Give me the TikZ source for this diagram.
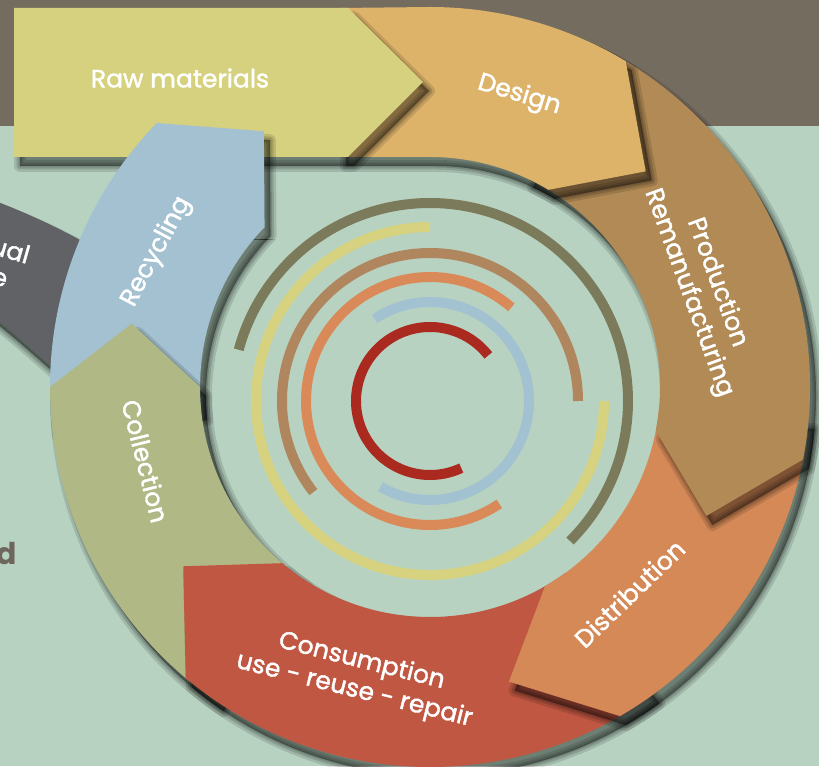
\documentclass[tikz,border=0pt]{standalone}
\usepackage{fontspec}
\setmainfont{Poppins}
\newfontfamily\lab{Poppins}[FakeBold=1.6]
\usetikzlibrary{calc,shadows}
\definecolor{band}{HTML}{756C60}
\definecolor{bg}{HTML}{B7D2C1}
\definecolor{raw}{HTML}{D5D17F}
\definecolor{des}{HTML}{DDB36A}
\definecolor{prod}{HTML}{B18A55}
\definecolor{dist}{HTML}{D58957}
\definecolor{cons}{HTML}{C05743}
\definecolor{coll}{HTML}{B0B986}
\definecolor{recy}{HTML}{A3C1D1}
\definecolor{resid}{HTML}{606266}
\definecolor{darkd}{HTML}{6E665C}
\definecolor{aOlive}{HTML}{7B7B5B}
\definecolor{aYellow}{HTML}{D6D27F}
\definecolor{aBrown}{HTML}{B0865E}
\definecolor{aOrange}{HTML}{D98A58}
\definecolor{aBlue}{HTML}{A3C2D1}
\definecolor{aRed}{HTML}{AB2A20}
\tikzset{
  shd/.style={
    general shadow={shadow xshift=6pt, shadow yshift=-9pt, fill=black, fill opacity=0.40},
    general shadow={shadow xshift=6pt, shadow yshift=-9pt, draw=black, draw opacity=0.12, line width=12pt, line join=round},
    general shadow={shadow xshift=6pt, shadow yshift=-9pt, draw=black, draw opacity=0.14, line width=7pt, line join=round},
    general shadow={shadow xshift=6pt, shadow yshift=-9pt, draw=black, draw opacity=0.14, line width=3pt, line join=round},
  },
  lbl/.style={text=white, font=\lab\fontsize{25}{30}\selectfont, align=center, inner sep=0pt},
  arcline/.style={line width=10pt},
}
% segment: start angle, base angle, tip angle, colour
\newcommand\ringseg[4]{%
  \fill[#4, shd] (#1:380) arc[start angle=#1, end angle=#2, radius=380]
    -- (#3:305) -- (#2:230) arc[start angle=#2, end angle=#1, radius=230] -- cycle;}
\begin{document}
\begin{tikzpicture}[x=1pt,y=1pt]
\useasboundingbox (0,0) rectangle (819,766);
\clip (0,0) rectangle (819,766);
% background
\fill[bg] (0,0) rectangle (819,766);
\fill[band] (0,640) rectangle (819,766);
% residual segment at far left
\fill[resid, shd] (-10,567) .. controls (30,552) and (60,537) .. (80,526)
  -- (140,500) -- (140,390) -- (52,399) .. controls (30,418) and (15,432) .. (-10,452) -- cycle;
\begin{scope}[shift={(430,379)}]
  \begin{scope}
    \clip (-430,-379) rectangle (389,147);
    \ringseg{186}{136}{123}{recy}
  \end{scope}
  \ringseg{236}{180}{168}{coll}
  \ringseg{-54}{-130}{-144}{cons}
  \ringseg{-5}{-60}{-75}{dist}
  \ringseg{65}{-11}{-25}{prod}
  \fill[des, shd] (-90,230) -- (-90,379) -- (90:380) arc[start angle=90, end angle=59, radius=380]
    -- (45:305) -- (59:230) arc[start angle=59, end angle=90, radius=230] -- cycle;
\end{scope}
% raw materials arrow
\fill[raw, shd] (14,758) -- (348,758) -- (423,684) -- (348,609) -- (14,609) -- cycle;
\begin{scope}[shift={(430,379)}]
  \begin{scope}
    \clip (-430,147) rectangle (389,387);
    \ringseg{186}{136}{123}{recy}
  \end{scope}
\end{scope}
% inner concentric arcs
\begin{scope}[shift={(430,365)}]
  \draw[arcline, aOlive] (-45:198) arc[start angle=-45, end angle=165, radius=198];
  \draw[arcline, aYellow] (90:174) arc[start angle=90, end angle=360, radius=174];
  \draw[arcline, aBrown] (0:148) arc[start angle=0, end angle=218, radius=148];
  \draw[arcline, aOrange] (49:124) arc[start angle=49, end angle=304, radius=124];
  \draw[arcline, aBlue] (240:99) arc[start angle=240, end angle=484, radius=99];
  \draw[arcline, aRed] (38:74) arc[start angle=38, end angle=295, radius=74];
\end{scope}
% labels
\node[lbl] (raw) at (180,688) {Raw materials};
\begin{scope}[shift={(430,379)}]
  \node[lbl, rotate=-17] (design) at (73:305) {Design};
  \node[lbl, rotate=-70] (prod) at (20:290) {Production\\Remanufacturing};
  \node[lbl, rotate=44] (dist) at (-46:287) {Distribution};
  \node[lbl, rotate=-14] (cons) at (-104:298) {Consumption\\use - reuse - repair};
  \node[lbl, rotate=-76] (coll) at (194.6:294) {Collection};
  \node[lbl, rotate=62] (recy) at (153.7:305) {Recycling};
\end{scope}
\node[lbl, anchor=base east, rotate=-16] (resid1) at (27,502) {Residual};
\node[lbl, anchor=base east, rotate=-16] (resid2) at (5,478) {waste};
\node[text=darkd, font=\bfseries\fontsize{30}{34}\selectfont, anchor=base east, inner sep=0pt] (dtext) at (17,201) {d};
\end{tikzpicture}
\end{document}
